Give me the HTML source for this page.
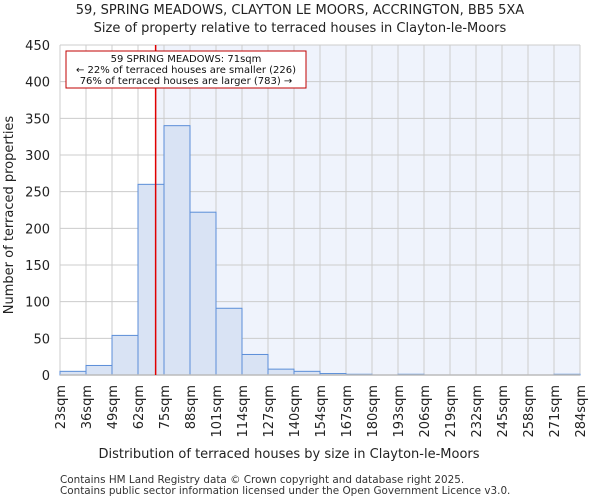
<!DOCTYPE html>
<html><head><meta charset="utf-8"><style>
html,body{margin:0;padding:0;background:#fff;}
svg{display:block;font-family:"DejaVu Sans","Liberation Sans",sans-serif;}
</style></head><body>
<svg id="c" width="600" height="500" xmlns="http://www.w3.org/2000/svg">
<text x="300" y="14" text-anchor="middle" font-size="13" fill="#222">59, SPRING MEADOWS, CLAYTON LE MOORS, ACCRINGTON, BB5 5XA</text>
<text x="300" y="32" text-anchor="middle" font-size="13" fill="#222">Size of property relative to terraced houses in Clayton-le-Moors</text>
<text x="289" y="458" text-anchor="middle" font-size="13" fill="#222">Distribution of terraced houses by size in Clayton-le-Moors</text>
<text transform="translate(13,215) rotate(-90)" text-anchor="middle" font-size="13" fill="#222">Number of terraced properties</text>
<text x="60" y="483" font-size="10.4" fill="#333">Contains HM Land Registry data © Crown copyright and database right 2025.</text>
<text x="60" y="494" font-size="10.4" fill="#333">Contains public sector information licensed under the Open Government Licence v3.0.</text>
<g id="plot"></g>
</svg>
<script>
const cats = ["23sqm","36sqm","49sqm","62sqm","75sqm","88sqm","101sqm","114sqm","127sqm","140sqm","154sqm","167sqm","180sqm","193sqm","206sqm","219sqm","232sqm","245sqm","258sqm","271sqm","284sqm"];
const ticks = [0,50,100,150,200,250,300,350,400,450];
const vals = [5,13,54,260,340,222,91,28,8,5,2,1,0,1,0,0,0,0,0,1];
const marker = 71;
const sizeMin = 23, sizeMax = 284;
const NS = "http://www.w3.org/2000/svg";
const L=60,R=580,T=45,B=375;
const y = v => B - (v/450)*(B-T);
const bw = (R-L)/vals.length;
const xi = i => L + i*bw;
const xs = s => L + (s-sizeMin)/(sizeMax-sizeMin)*(R-L);
const g = document.getElementById('plot');
function mk(tag, attrs){const e=document.createElementNS(NS,tag);for(const k in attrs)e.setAttribute(k,attrs[k]);g.appendChild(e);return e;}
const mx = xs(marker);
let e;
e = mk('rect',{x:L,y:T,width:mx-L,height:B-T,fill:'#ffffff'});


e = mk('rect',{x:mx,y:T,width:R-mx,height:B-T,fill:'#eff3fc'});


for(let i=0;i<=vals.length;i++){
  e = mk('line',{x1:xi(i),x2:xi(i),y1:T,y2:B,stroke:'#cccccc','stroke-width':1});
  
  
}
ticks.forEach(t=>{
  e = mk('line',{x1:L,x2:R,y1:y(t),y2:y(t),stroke:'#cccccc','stroke-width':1});
  
  
  e = mk('text',{x:L-10,y:y(t)+5,'text-anchor':'end','font-size':13,fill:'#222'});
  e.textContent=t;
  
  
});
vals.forEach((v,i)=>{
  if(v<=0) return;
  e = mk('rect',{x:xi(i),y:y(v),width:bw,height:B-y(v),fill:'#d9e3f4',stroke:'#5b8ed8','stroke-width':1});
  
  
});
e = mk('line',{x1:L,x2:R,y1:B,y2:B,stroke:'#bbbbbb','stroke-width':1.5});


cats.forEach((c,i)=>{
  e = mk('text',{transform:`translate(${xi(i)+5},${B+10}) rotate(-90)`,'text-anchor':'end','font-size':13,fill:'#222'});
  e.textContent=c;
  
  
});
e = mk('line',{x1:mx,x2:mx,y1:T,y2:B,stroke:'#e00000','stroke-width':1.5});


e = mk('rect',{x:66,y:51,width:240,height:37,fill:'#fff',stroke:'#c00000','stroke-width':1});


const lines=["59 SPRING MEADOWS: 71sqm","← 22% of terraced houses are smaller (226)","76% of terraced houses are larger (783) →"];
lines.forEach((t,k)=>{
  e = mk('text',{x:186,y:62+k*11,'text-anchor':'middle','font-size':10,fill:'#111'});
  e.textContent=t;
  
  
});
</script>
</body></html>
